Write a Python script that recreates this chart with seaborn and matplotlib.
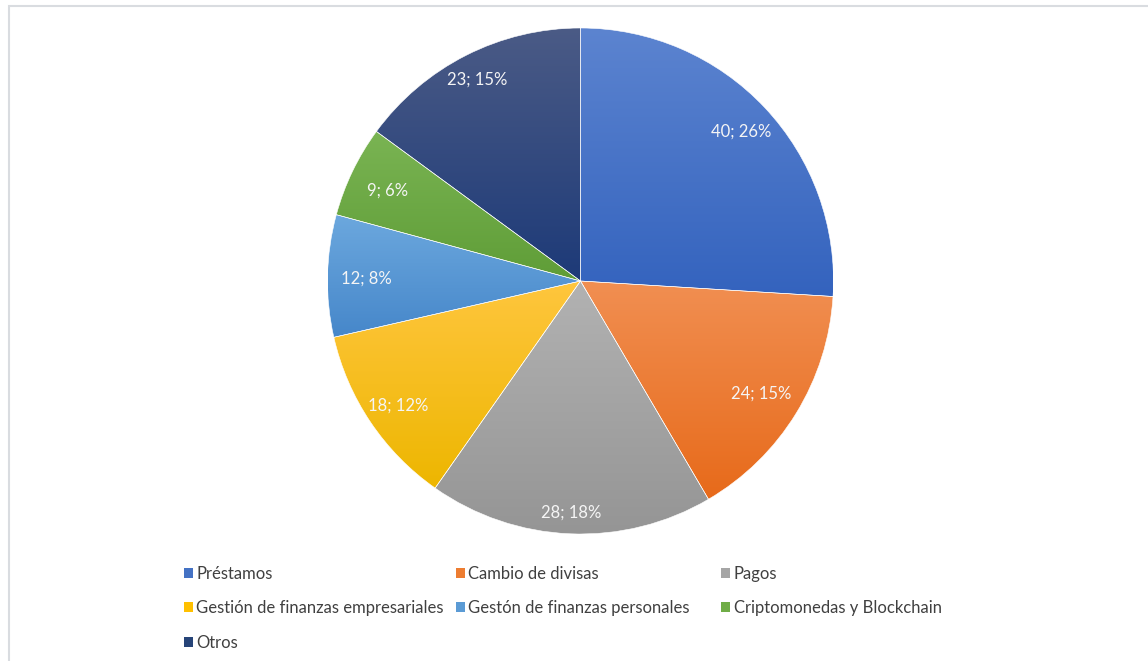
import numpy as np
import matplotlib
matplotlib.use("Agg")
import matplotlib.pyplot as plt
import matplotlib.colors as mcolors
from matplotlib.patches import Patch, Rectangle
import seaborn as sns

# Fintech segments: count of companies and rounded share
categories = ["Préstamos", "Cambio de divisas", "Pagos",
              "Gestión de finanzas empresariales", "Gestón de finanzas personales",
              "Criptomonedas y Blockchain", "Otros"]
counts = [40, 24, 28, 18, 12, 9, 23]
shares = [26, 15, 18, 12, 8, 6, 15]

base_colors = ["#4472C4", "#ED7D31", "#A5A5A5", "#FFC000", "#5B9BD5", "#70AD47", "#264478"]
top_colors = ["#5C84D0", "#F18F52", "#B2B2B2", "#FFC63E", "#6CA8DE", "#7AB453", "#4B5B86"]
bottom_colors = ["#3463BE", "#E76A1A", "#959595", "#EDB600", "#4687CA", "#5F9D37", "#1D3A78"]

sns.set_theme(style="white")
plt.rcParams["font.family"] = ["Lato", "DejaVu Sans"]

W, H = 1148, 661
CX, CY, R = 580.5, H - 281, 253
fig = plt.figure(figsize=(W / 100, H / 100), dpi=100)
ax = fig.add_axes([0, 0, 1, 1])

labels = [f"{c}; {s}%" for c, s in zip(counts, shares)]
wedges, texts = ax.pie(
    counts, colors=base_colors, startangle=90, counterclock=False,
    center=(CX, CY), radius=R, labels=labels, labeldistance=0.87,
    textprops=dict(color="#F5F5F5", fontsize=12),
    wedgeprops=dict(linewidth=0.4, edgecolor="white"), frame=True,
)
ax.set_xlim(0, W)
ax.set_ylim(0, H)
ax.set_aspect("equal")
ax.axis("off")

# Vertical gradient fill for each slice, clipped to the slice outline
for w, top, bot in zip(wedges, top_colors, bottom_colors):
    ext = w.get_path().get_extents()
    t = np.linspace(0, 1, 256)[:, None]
    c0 = np.array(mcolors.to_rgb(bot))
    c1 = np.array(mcolors.to_rgb(top))
    grad = (c0 * (1 - t) + c1 * t).reshape(256, 1, 3)
    im = ax.imshow(grad, extent=[ext.x0, ext.x1, ext.y0, ext.y1], origin="lower",
                   aspect="auto", interpolation="bilinear", zorder=2)
    im.set_clip_path(w)
    w.set_facecolor("none")
    w.set_zorder(3)

# Data labels placed along each slice's mid-angle, best-fit style
label_radius = [0.874, 0.836, 0.91, 0.87, 0.845, 0.845, 0.90]
for w, t, lr in zip(wedges, texts, label_radius):
    mid = np.deg2rad((w.theta1 + w.theta2) / 2)
    t.set_position((CX + lr * R * np.cos(mid), CY + lr * R * np.sin(mid) - 2))
    t.set_ha("center")
    t.set_va("center")
    t.set_zorder(4)

ax.set_xlim(0, W)
ax.set_ylim(0, H)

# Legend laid out in three columns
columns = [[0, 3, 6], [1, 4], [2, 5]]
col_x = [184, 456, 721]
for xpos, idx in zip(col_x, columns):
    handles = [Patch(facecolor=base_colors[i], edgecolor="none", label=categories[i]) for i in idx]
    fig.legend(handles=handles, loc="upper left", bbox_to_anchor=(xpos / W, 1 - 566 / H),
               frameon=False, fontsize=12, handlelength=0.55, handleheight=0.55,
               handletextpad=0.2, labelspacing=1.1, borderpad=0, borderaxespad=0,
               labelcolor="#404040")

# Chart area border
fig.patches.append(Rectangle((8.5 / W, -0.01), 1.02, 1 - 5.5 / H + 0.01, transform=fig.transFigure,
                             fill=False, edgecolor="#D9DCE0", linewidth=1.5))

fig.savefig("out.png", dpi=100)
